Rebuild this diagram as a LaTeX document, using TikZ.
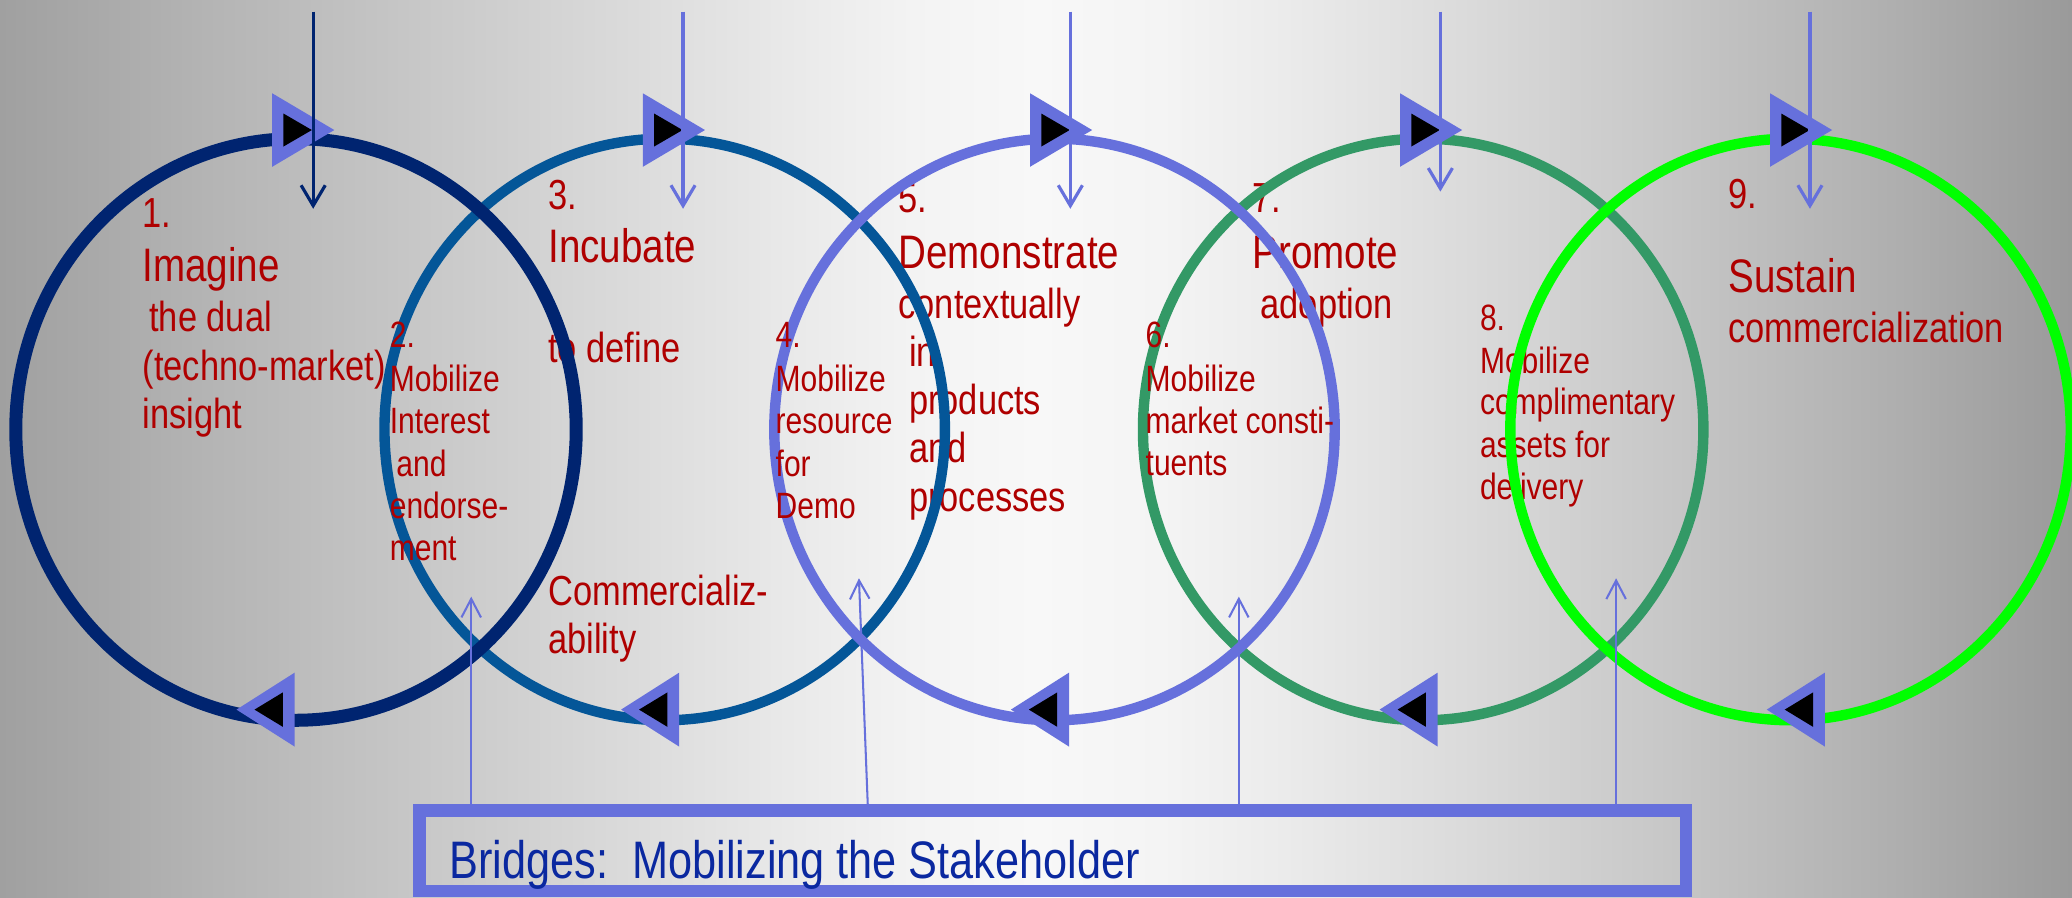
\documentclass[tikz,border=0pt]{standalone}
\usepackage{fontspec}
\setmainfont{Liberation Sans}[FakeStretch=0.82]
\usetikzlibrary{arrows.meta}
\definecolor{navyc}{RGB}{0,36,112}
\definecolor{bluec}{RGB}{4,86,152}
\definecolor{peric}{RGB}{102,112,220}
\definecolor{greenc}{RGB}{51,153,102}
\definecolor{limec}{RGB}{0,255,0}
\definecolor{redt}{RGB}{175,0,0}
\definecolor{boxt}{RGB}{10,40,160}
\definecolor{bg0}{RGB}{160,160,160}
\definecolor{bg1}{RGB}{180,180,180}
\definecolor{bg2}{RGB}{199,199,199}
\definecolor{bg3}{RGB}{218,218,218}
\definecolor{bg4}{RGB}{233,233,233}
\definecolor{bg5}{RGB}{243,243,243}
\definecolor{bg6}{RGB}{248,248,248}
\definecolor{bg7}{RGB}{244,244,244}
\definecolor{bg8}{RGB}{235,235,235}
\definecolor{bg9}{RGB}{220,220,220}
\definecolor{bgA}{RGB}{200,200,200}
\definecolor{bgB}{RGB}{178,178,178}
\definecolor{bgC}{RGB}{154,154,154}
\pgfdeclarehorizontalshading{bgshade}{100bp}{color(0bp)=(bg0); color(25bp)=(bg0); color(30bp)=(bg1); color(35bp)=(bg2); color(40bp)=(bg3); color(44bp)=(bg4); color(47bp)=(bg5); color(50bp)=(bg6); color(53bp)=(bg7); color(56bp)=(bg8); color(60bp)=(bg9); color(65bp)=(bgA); color(70bp)=(bgB); color(75bp)=(bgC); color(100bp)=(bgC)}
\tikzset{
  ringthin/.style={line width=5.6pt},
  ringthick/.style={line width=7pt},
  txtbase/.style={anchor=base west, inner sep=0pt, outer sep=0pt, text=redt},
  desc/.style={txtbase, font=\fontsize{22.6}{27}\selectfont},
  ttl/.style={txtbase, font=\fontsize{25.3}{30}\selectfont},
  smalltxt/.style={txtbase, font=\fontsize{19.7}{23}\selectfont},
  toparrow/.style={line width=1.7pt, -{Straight Barb[length=11pt,width=13pt]}},
  botarrow/.style={line width=1.1pt, peric, -{Straight Barb[length=10pt,width=10.5pt]}},
}
\begin{document}
\begin{tikzpicture}[x=0.025cm,y=-0.025cm]
\useasboundingbox (0,0) rectangle (1568,679);
\shade[shading=bgshade] (0,0) rectangle (1568,679);

% texts lying under the rings
\node[desc] (t3a) at (415,158.5) {3.};
\node[ttl]  (t3b) at (415,199) {Incubate};
\node[desc] (t3c) at (415,274) {to define};
\node[desc] (t3d) at (415,458) {Commercializ-};
\node[desc] (t3e) at (415,494.5) {ability};

\node[desc] (t5a) at (680,161) {5.};
\node[ttl]  (t5b) at (680,203) {Demonstrate};
\node[desc] (t5c) at (680,241) {contextually};
\node[desc] (t5d) at (688,277.5) {in};
\node[desc] (t5e) at (688,314) {products};
\node[desc] (t5f) at (688,350) {and};
\node[desc] (t5g) at (688,387) {processes};

\node[desc] (t7a) at (948,161) {7.};
\node[ttl]  (t7b) at (948,203) {Promote};
\node[desc] (t7c) at (954,241) {adoption};

\node[smalltxt] (t8a) at (1120,250) {8.};
\node[smalltxt] (t8b) at (1120,282.5) {Mobilize};
\node[smalltxt] (t8c) at (1120,314) {complimentary};
\node[smalltxt] (t8d) at (1120,346) {assets for};
\node[smalltxt] (t8e) at (1120,378) {delivery};

\node[desc] (t9a) at (1308,158) {9.};
\node[ttl]  (t9b) at (1308,221) {Sustain};
\node[desc] (t9c) at (1308,259) {commercialization};

% rings (1, 3 and 5 lie over 2 and 4)
\draw[ringthin,bluec]  (503,325)  ellipse [x radius=5.3cm, y radius=5.5cm];
\draw[ringthin,greenc] (1077,325) ellipse [x radius=5.3cm, y radius=5.5cm];
\draw[ringthick,navyc] (224,325)  ellipse [x radius=5.3cm, y radius=5.5cm];
\draw[ringthin,peric]  (798,325)  ellipse [x radius=5.3cm, y radius=5.5cm];
\draw[ringthin,limec]  (1355,325) ellipse [x radius=5.3cm, y radius=5.5cm];

% texts above the rings
\node[desc] (t1a) at (108,172) {1.};
\node[ttl]  (t1b) at (108,213) {Imagine};
\node[desc] (t1c) at (113,251) {the dual};
\node[desc] (t1d) at (108,287.6) {(techno-market)};
\node[desc] (t1e) at (108,324) {insight};

\node[smalltxt] (t2a) at (295,263) {2.};
\node[smalltxt] (t2b) at (295,296.5) {Mobilize};
\node[smalltxt] (t2c) at (295,328) {Interest};
\node[smalltxt] (t2d) at (300,360.5) {and};
\node[smalltxt] (t2e) at (295,392) {endorse-};
\node[smalltxt] (t2f) at (295,424) {ment};

\node[smalltxt] (t4a) at (587,263) {4.};
\node[smalltxt] (t4b) at (587,296.5) {Mobilize};
\node[smalltxt] (t4c) at (587,328) {resource};
\node[smalltxt] (t4d) at (587,360.7) {for};
\node[smalltxt] (t4e) at (587,392) {Demo};

\node[smalltxt] (t6a) at (867,263) {6.};
\node[smalltxt] (t6b) at (867,296.5) {Mobilize};
\node[smalltxt] (t6c) at (867,328) {market consti-};
\node[smalltxt] (t6d) at (867,360) {tuents};

% direction triangles on top of rings
\foreach \b in {206,486.5,779.5,1059.5,1339.5}{
  \fill[peric] (\b,70.6) -- (\b,126.2) -- (\b+47,98.4) -- cycle;
  \fill[black] (\b+8.5,85.9) -- (\b+8.5,110.9) -- (\b+30,98.4) -- cycle;
}
\foreach \t in {179,470,765,1044,1337}{
  \fill[peric] (\t+44,509) -- (\t+44,565) -- (\t,537) -- cycle;
  \fill[black] (\t+35,524) -- (\t+35,550) -- (\t+13.6,537) -- cycle;
}

% top arrows
\coordinate (s1) at (237,8.8);    \coordinate (e1) at (237,158);
\coordinate (s2) at (516.9,8.8);  \coordinate (e2) at (516.9,158);
\coordinate (s3) at (810,8.8);    \coordinate (e3) at (810,158);
\coordinate (s4) at (1090,8.8);   \coordinate (e4) at (1090,145);
\coordinate (s5) at (1369.7,8.8); \coordinate (e5) at (1369.7,158);
\draw[toparrow,navyc] (s1) -- (e1);
\draw[toparrow,peric] (s2) -- (e2);
\draw[toparrow,peric] (s3) -- (e3);
\draw[toparrow,peric] (s4) -- (e4);
\draw[toparrow,peric] (s5) -- (e5);

% bridges box and its arrows
\coordinate (b1) at (356.6,612); \coordinate (u1) at (356.6,451.5);
\coordinate (b2) at (656.8,612); \coordinate (u2) at (650,437.6);
\coordinate (b3) at (937.5,612); \coordinate (u3) at (937.5,451.5);
\coordinate (b4) at (1223,612);  \coordinate (u4) at (1223,437.6);
\draw[botarrow] (b1) -- (u1);
\draw[botarrow] (b2) -- (u2);
\draw[botarrow] (b3) -- (u3);
\draw[botarrow] (b4) -- (u4);

\node[draw=peric, line width=6.8pt, inner sep=0pt, minimum width=23.96cm, minimum height=1.525cm] (box) at (796.6,643.8) {};
\node[anchor=base west, inner sep=0pt, text=boxt, font=\fontsize{28.4}{32}\selectfont] (boxtext) at (340,664.6) {Bridges:\ \ Mobilizing the Stakeholder};
\end{tikzpicture}
\end{document}
